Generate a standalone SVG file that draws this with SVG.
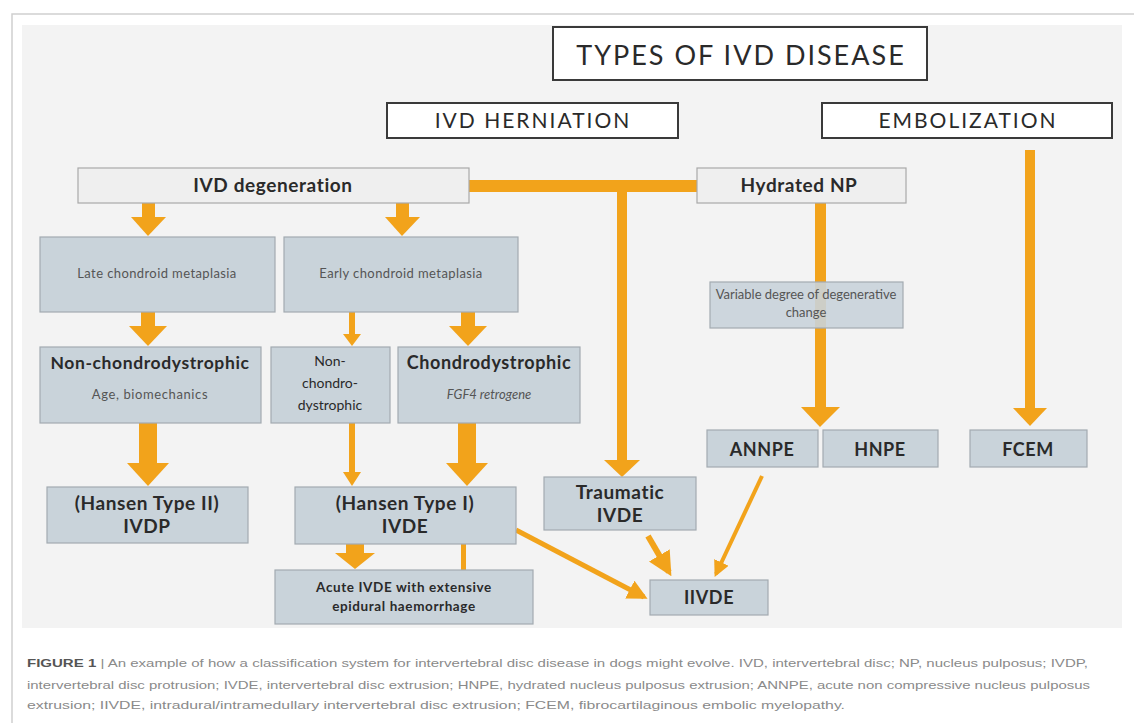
<svg xmlns="http://www.w3.org/2000/svg" width="1134" height="723" viewBox="0 0 1134 723">
<defs>
<style>
.hdr{fill:#fff;stroke:#3a3a3a;stroke-width:2}
.lt{fill:#efefef;stroke:#a9a9a9;stroke-width:1.2}
.bx{fill:#c9d3da;stroke:#a3abb1;stroke-width:1.2}
.t{font-family:Lato,"Open Sans","Liberation Sans",sans-serif;fill:#2a2a2a;text-anchor:middle}
.b{font-weight:bold;letter-spacing:0.6px}
.s{font-size:13px;fill:#555}
.o{fill:#f2a31b}
.ol{stroke:#f2a31b;fill:none}
.cap{font-family:"Liberation Sans",Arial,sans-serif;font-size:10.5px;fill:#8a8a8a}
</style>
<marker id="ah" viewBox="0 0 10 10" refX="8" refY="5" markerWidth="4" markerHeight="4" orient="auto" markerUnits="strokeWidth">
<path d="M0,0 L10,5 L0,10 z" fill="#f2a31b"/>
</marker>
</defs>
<rect x="0" y="0" width="1134" height="723" fill="#ffffff"/>
<path d="M12,723 V14 H1134" fill="none" stroke="#d0d0d0" stroke-width="1.5"/>
<rect x="22" y="25" width="1100" height="603" fill="#f3f3f3"/>

<g id="connectors">
<rect class="o" x="469" y="180" width="228" height="12"/>
<rect class="o" x="617" y="186" width="10" height="276"/>
<polygon class="o" points="604,460 640,460 622,477"/>
<rect class="o" x="815" y="203" width="11" height="207"/>
<polygon class="o" points="801,407 840,407 820,427"/>
<rect class="o" x="1025" y="150" width="10" height="260"/>
<polygon class="o" points="1013,408 1047,408 1030,426"/>
<rect class="o" x="142" y="203" width="13" height="16"/>
<polygon class="o" points="131,217 166,217 148,236"/>
<rect class="o" x="396" y="203" width="13" height="16"/>
<polygon class="o" points="385,217 420,217 402,236"/>
<rect class="o" x="141" y="312" width="14" height="16"/>
<polygon class="o" points="129,326 167,326 148,346"/>
<rect class="o" x="349" y="312" width="6" height="24"/>
<polygon class="o" points="343,334 361,334 352,346"/>
<rect class="o" x="461" y="312" width="14" height="16"/>
<polygon class="o" points="449,326 487,326 468,346"/>
<rect class="o" x="139" y="423" width="18" height="43"/>
<polygon class="o" points="127,463 169,463 148,486"/>
<rect class="o" x="349" y="423" width="6" height="52"/>
<polygon class="o" points="343,472 361,472 352,486"/>
<rect class="o" x="458" y="423" width="18" height="43"/>
<polygon class="o" points="446,463 488,463 467,486"/>
<rect class="o" x="346" y="544" width="18" height="12"/>
<polygon class="o" points="335,553 375,553 355,569"/>
<rect class="o" x="461" y="544" width="5" height="26"/>
<line class="ol" x1="516" y1="530" x2="644" y2="597" stroke-width="5" marker-end="url(#ah)"/>
<line class="ol" x1="648" y1="536" x2="669" y2="572" stroke-width="6" marker-end="url(#ah)"/>
<line class="ol" x1="762" y1="476" x2="716" y2="574" stroke-width="4" marker-end="url(#ah)"/>
</g>

<g id="types">
<rect class="hdr" x="553" y="27" width="374" height="53"/>
<text class="t" x="741" y="65" font-size="27" letter-spacing="2">TYPES OF IVD DISEASE</text>
</g>
<g id="herniation">
<rect class="hdr" x="387" y="103" width="291" height="35"/>
<text class="t" x="533" y="128" font-size="21" letter-spacing="2">IVD HERNIATION</text>
</g>
<g id="embolization">
<rect class="hdr" x="822" y="103" width="290" height="35"/>
<text class="t" x="968" y="128" font-size="21" letter-spacing="2">EMBOLIZATION</text>
</g>
<g id="ivd-degeneration">
<rect class="lt" x="78" y="168" width="391" height="35"/>
<text class="t b" x="273" y="192" font-size="19">IVD degeneration</text>
</g>
<g id="hydrated-np">
<rect class="lt" x="697" y="168" width="209" height="35"/>
<text class="t b" x="799" y="192" font-size="19">Hydrated NP</text>
</g>
<g id="late-chondroid">
<rect class="bx" x="40" y="237" width="235" height="75"/>
<text class="t s" x="157" y="278" font-size="13.5" letter-spacing="0.4">Late chondroid metaplasia</text>
</g>
<g id="early-chondroid">
<rect class="bx" x="284" y="237" width="234" height="75"/>
<text class="t s" x="401" y="278" font-size="13.5" letter-spacing="0.4">Early chondroid metaplasia</text>
</g>
<g id="variable-degree">
<rect class="bx" x="710" y="282" width="193" height="46" fill-opacity="0.9"/>
<text class="t s" x="806" y="299" font-size="12.3">Variable degree of degenerative</text>
<text class="t s" x="806" y="317" font-size="12.3">change</text>
</g>
<g id="non-chondro-left">
<rect class="bx" x="40" y="347" width="221" height="76"/>
<text class="t b" x="150" y="369" font-size="17.5">Non-chondrodystrophic</text>
<text class="t s" x="150" y="399" letter-spacing="0.6">Age, biomechanics</text>
</g>
<g id="non-chondro-mid">
<rect class="bx" x="271" y="347" width="119" height="76"/>
<text class="t" x="330" y="366" font-size="14">Non-</text>
<text class="t" x="330" y="388" font-size="14">chondro-</text>
<text class="t" x="330" y="410" font-size="14">dystrophic</text>
</g>
<g id="chondrodystrophic">
<rect class="bx" x="398" y="347" width="182" height="76"/>
<text class="t b" x="489" y="369" font-size="18">Chondrodystrophic</text>
<text class="t s" x="489" y="399" font-style="italic">FGF4 retrogene</text>
</g>
<g id="annpe">
<rect class="bx" x="707" y="430" width="111" height="37"/>
<text class="t b" x="762" y="456" font-size="18">ANNPE</text>
</g>
<g id="hnpe">
<rect class="bx" x="823" y="430" width="115" height="37"/>
<text class="t b" x="880" y="456" font-size="18">HNPE</text>
</g>
<g id="fcem">
<rect class="bx" x="970" y="430" width="117" height="37"/>
<text class="t b" x="1028" y="456" font-size="18">FCEM</text>
</g>
<g id="hansen-2">
<rect class="bx" x="47" y="487" width="201" height="56"/>
<text class="t b" x="147" y="510" font-size="19">(Hansen Type II)</text>
<text class="t b" x="147" y="533" font-size="19">IVDP</text>
</g>
<g id="hansen-1">
<rect class="bx" x="295" y="487" width="221" height="57"/>
<text class="t b" x="405" y="510" font-size="19">(Hansen Type I)</text>
<text class="t b" x="405" y="533" font-size="19">IVDE</text>
</g>
<g id="traumatic">
<rect class="bx" x="544" y="477" width="152" height="53"/>
<text class="t b" x="620" y="499" font-size="19">Traumatic</text>
<text class="t b" x="620" y="522" font-size="19">IVDE</text>
</g>
<g id="acute">
<rect class="bx" x="275" y="570" width="258" height="54"/>
<text class="t b" x="404" y="592" font-size="13.5">Acute IVDE with extensive</text>
<text class="t b" x="404" y="611" font-size="13.5">epidural haemorrhage</text>
</g>
<g id="iivde">
<rect class="bx" x="650" y="580" width="118" height="35"/>
<text class="t b" x="709" y="604" font-size="18">IIVDE</text>
</g>

<g id="caption">
<text class="cap" x="27" y="667" textLength="1061" lengthAdjust="spacingAndGlyphs"><tspan font-weight="bold" fill="#555">FIGURE 1</tspan> | An example of how a classification system for intervertebral disc disease in dogs might evolve. IVD, intervertebral disc; NP, nucleus pulposus; IVDP,</text>
<text class="cap" x="27" y="689" textLength="1063" lengthAdjust="spacingAndGlyphs">intervertebral disc protrusion; IVDE, intervertebral disc extrusion; HNPE, hydrated nucleus pulposus extrusion; ANNPE, acute non compressive nucleus pulposus</text>
<text class="cap" x="27" y="709" textLength="818" lengthAdjust="spacingAndGlyphs">extrusion; IIVDE, intradural/intramedullary intervertebral disc extrusion; FCEM, fibrocartilaginous embolic myelopathy.</text>
</g>
</svg>
